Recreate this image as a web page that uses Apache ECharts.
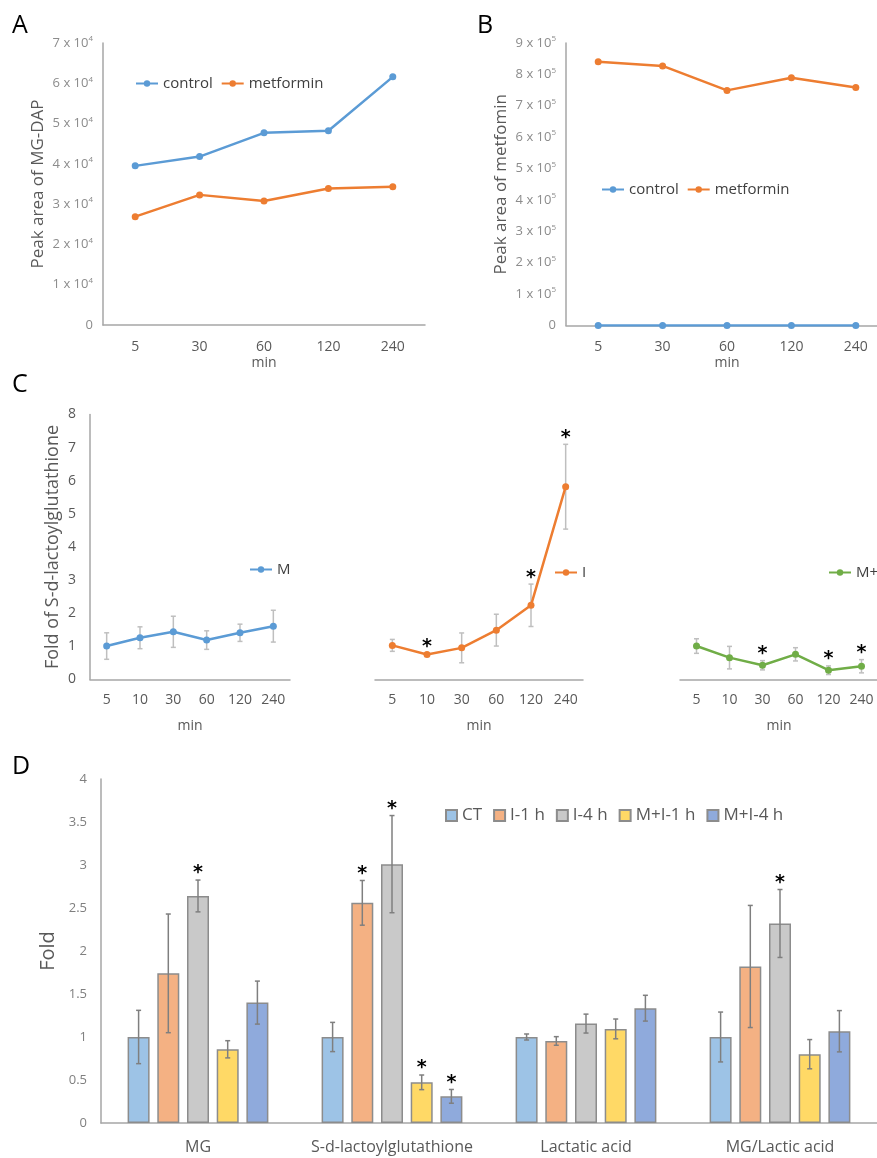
<!DOCTYPE html>
<html><head><meta charset="utf-8">
<script src="https://cdn.jsdelivr.net/npm/echarts@6/dist/echarts.min.js"></script>
<style>html,body{margin:0;padding:0;background:#fff}#c{width:877px;height:1158px}</style>
</head><body><div id="c"></div>
<script>
// ---------- data ----------
const minAB = ['5', '30', '60', '120', '240'];
const controlA = [39500, 41800, 47700, 48200, 61600];
const metforminA = [26900, 32300, 30800, 33900, 34300];
const controlB = [0, 0, 0, 0, 0];
const metforminB = [840000, 827000, 749000, 789000, 758000];

const minC = ['5', '10', '30', '60', '120', '240'];
const cM = [1.01, 1.26, 1.44, 1.19, 1.41, 1.61];
const cMErr = [0.40, 0.33, 0.47, 0.28, 0.26, 0.48];
const cI = [1.03, 0.755, 0.955, 1.49, 2.24, 5.82];
const cIErr = [0.18, 0.03, 0.45, 0.48, 0.64, 1.28];
const cIStar = [0, 1, 0, 0, 1, 1];
const cMI = [1.01, 0.66, 0.43, 0.76, 0.28, 0.40];
const cMIErr = [0.22, 0.34, 0.14, 0.20, 0.13, 0.20];
const cMIStar = [0, 0, 1, 0, 1, 1];

const catsD = ['MG', 'S-d-lactoylglutathione', 'Lactatic acid', 'MG/Lactic acid'];
const groupsD = ['CT', 'I-1 h', 'I-4 h', 'M+I-1 h', 'M+I-4 h'];
const dCT = [1.00, 1.00, 1.00, 1.00];
const dCTErr = [0.31, 0.17, 0.035, 0.29];
const dCTStar = [0, 0, 0, 0];
const dI1 = [1.74, 2.56, 0.954, 1.82];
const dI1Err = [0.69, 0.26, 0.05, 0.71];
const dI1Star = [0, 1, 0, 0];
const dI4 = [2.64, 3.01, 1.156, 2.32];
const dI4Err = [0.185, 0.565, 0.11, 0.395];
const dI4Star = [1, 1, 0, 1];
const dMI1 = [0.857, 0.473, 1.094, 0.80];
const dMI1Err = [0.10, 0.085, 0.115, 0.17];
const dMI1Star = [0, 1, 0, 0];
const dMI4 = [1.40, 0.31, 1.335, 1.067];
const dMI4Err = [0.25, 0.08, 0.15, 0.24];
const dMI4Star = [0, 1, 0, 0];

// ---------- styles ----------
const FONT = 'Open Sans';
const BLUE = '#5B9BD5', ORANGE = '#ED7D31', GREEN = '#70AD47';
const barColors = ['#9DC3E6', '#F4B183', '#C9C9C9', '#FFD966', '#8FAADC'];
const AXIS = '#A6A6A6';
const BAR_W = 22, BAR_GAP = 0.35;

const chart = echarts.init(document.getElementById('c'), null, {renderer: 'canvas'});

function sciFmt(exp) {
  return function (v) {
    if (v === 0) return '{a|0}';
    return '{a|' + Math.round(v / Math.pow(10, exp)) + ' x 10}{s|' + exp + '}';
  };
}
const sciRich = {
  a: {fontSize: 13, color: '#8C8C8C', fontFamily: FONT, lineHeight: 16},
  s: {fontSize: 8, color: '#8C8C8C', fontFamily: FONT, verticalAlign: 'top', lineHeight: 16}
};

function catX(grid, data, nameGap, margin) {
  return {
    type: 'category', gridIndex: grid, data: data, boundaryGap: true,
    axisLine: {show: true, lineStyle: {color: AXIS, width: 1.5}},
    axisTick: {show: false},
    axisLabel: {fontSize: 14, color: '#595959', margin: margin, fontFamily: FONT, interval: 0},
    name: 'min', nameLocation: 'middle', nameGap: nameGap,
    nameTextStyle: {fontSize: 14, color: '#595959', fontFamily: FONT}
  };
}

function errSeries(xi, yi, vals, errs, color, offset) {
  return {
    type: 'custom', xAxisIndex: xi, yAxisIndex: yi, clip: false, silent: true, z: 2,
    data: vals.map((v, i) => [i, v - errs[i], v + errs[i]]),
    renderItem: function (params, api) {
      const lo = api.coord([api.value(0), api.value(1)]);
      const hi = api.coord([api.value(0), api.value(2)]);
      const x = lo[0] + offset;
      const st = {stroke: color, lineWidth: 1.5};
      return {type: 'group', children: [
        {type: 'line', shape: {x1: x, y1: lo[1], x2: x, y2: hi[1]}, style: st},
        {type: 'line', shape: {x1: x - 2.5, y1: lo[1], x2: x + 2.5, y2: lo[1]}, style: st},
        {type: 'line', shape: {x1: x - 2.5, y1: hi[1], x2: x + 2.5, y2: hi[1]}, style: st}
      ]};
    }
  };
}

function starSeries(xi, yi, vals, errs, flags, offset) {
  const d = [];
  vals.forEach((v, i) => { if (flags[i]) d.push([i, v + errs[i]]); });
  return {
    type: 'custom', xAxisIndex: xi, yAxisIndex: yi, clip: false, silent: true, z: 6,
    data: d,
    renderItem: function (params, api) {
      const p = api.coord([api.value(0), api.value(1)]);
      return {type: 'text', x: p[0] + offset, y: p[1] + 3,
        style: {text: '*', fill: '#000', fontSize: 19, fontWeight: 'bold', fontFamily: 'DejaVu Sans',
          align: 'center', verticalAlign: 'bottom'}};
    }
  };
}

function lineSeries(name, xi, yi, data, color) {
  return {
    name: name, type: 'line', xAxisIndex: xi, yAxisIndex: yi, data: data,
    symbol: 'circle', symbolSize: 7, z: 4,
    lineStyle: {color: color, width: 2.5}, itemStyle: {color: color}
  };
}

const pitch = BAR_W * (1 + BAR_GAP);
const dSets = [[dCT, dCTErr, dCTStar], [dI1, dI1Err, dI1Star], [dI4, dI4Err, dI4Star],
  [dMI1, dMI1Err, dMI1Star], [dMI4, dMI4Err, dMI4Star]];

const series = [
  lineSeries('control', 0, 0, controlA, BLUE),
  lineSeries('metformin', 0, 0, metforminA, ORANGE),
  lineSeries('control', 1, 1, controlB, BLUE),
  lineSeries('metformin', 1, 1, metforminB, ORANGE),
  errSeries(2, 2, cM, cMErr, '#BFBFBF', 0),
  lineSeries('M', 2, 2, cM, BLUE),
  errSeries(3, 3, cI, cIErr, '#BFBFBF', 0),
  lineSeries('I', 3, 3, cI, ORANGE),
  starSeries(3, 3, cI, cIErr, cIStar, 0),
  errSeries(4, 4, cMI, cMIErr, '#BFBFBF', 0),
  lineSeries('M+I', 4, 4, cMI, GREEN),
  starSeries(4, 4, cMI, cMIErr, cMIStar, 0)
];
dSets.forEach((s, k) => {
  series.push({
    name: groupsD[k], type: 'bar', xAxisIndex: 5, yAxisIndex: 5, data: s[0], z: 2,
    barWidth: BAR_W, barGap: (BAR_GAP * 100) + '%',
    itemStyle: {color: barColors[k], borderColor: '#8C8C8C', borderWidth: 1.5}
  });
});
dSets.forEach((s, k) => {
  const off = (k - 2) * pitch;
  const e = errSeries(5, 5, s[0], s[1], '#7F7F7F', off);
  e.z = 5;
  series.push(e);
  series.push(starSeries(5, 5, s[0], s[1], s[2], off));
});

const legendText = {fontSize: 15, color: '#404040', fontFamily: FONT};
const titleStyle = {fontSize: 25, fontWeight: 'normal', color: '#000', fontFamily: FONT};

const option = {
  animation: false,
  backgroundColor: '#fff',
  textStyle: {fontFamily: FONT},
  title: [
    {text: 'A', left: 12, top: 13, padding: 0, textStyle: titleStyle},
    {text: 'B', left: 477, top: 13, padding: 0, textStyle: titleStyle},
    {text: 'C', left: 12, top: 372, padding: 0, textStyle: titleStyle},
    {text: 'D', left: 12, top: 754, padding: 0, textStyle: titleStyle}
  ],
  legend: [
    {data: ['control', 'metformin'], left: 135, top: 76, padding: 0, itemWidth: 22, itemHeight: 8, itemGap: 8, textStyle: legendText},
    {data: ['control', 'metformin'], left: 601, top: 182, padding: 0, itemWidth: 22, itemHeight: 8, itemGap: 8, textStyle: legendText},
    {data: ['M'], left: 249, top: 562, padding: 0, itemWidth: 22, itemHeight: 8, textStyle: legendText},
    {data: ['I'], left: 554, top: 565, padding: 0, itemWidth: 22, itemHeight: 8, textStyle: legendText},
    {data: ['M+I'], left: 828, top: 565, padding: 0, itemWidth: 22, itemHeight: 8, itemGap: 0, textStyle: legendText},
    {data: groupsD, left: 445, top: 807, padding: 0, itemWidth: 11, itemHeight: 11, itemGap: 11, icon: 'rect',
      textStyle: {fontSize: 17, color: '#595959', fontFamily: FONT}}
  ],
  grid: [
    {left: 103, top: 43, width: 322, height: 282, outerBoundsMode: 'none'},
    {left: 566, top: 43, width: 322, height: 282.5, outerBoundsMode: 'none'},
    {left: 90, top: 414.5, width: 200, height: 265, outerBoundsMode: 'none'},
    {left: 375, top: 414.5, width: 208, height: 265, outerBoundsMode: 'none'},
    {left: 680, top: 414.5, width: 198, height: 265, outerBoundsMode: 'none'},
    {left: 101, top: 779, width: 776, height: 344, outerBoundsMode: 'none'}
  ],
  xAxis: [
    catX(0, minAB, 31, 15),
    catX(1, minAB, 31, 15),
    catX(2, minC, 40, 14),
    catX(3, minC, 40, 14),
    catX(4, minC, 40, 14),
    {type: 'category', gridIndex: 5, data: catsD,
      axisLine: {show: true, lineStyle: {color: AXIS, width: 1.5}},
      axisTick: {show: false},
      axisLabel: {fontSize: 16, color: '#595959', margin: 16, fontFamily: FONT, interval: 0}}
  ],
  yAxis: [
    {type: 'value', gridIndex: 0, min: 0, max: 70000, interval: 10000, splitLine: {show: false},
      axisLine: {show: true, lineStyle: {color: AXIS, width: 1.5}}, axisTick: {show: false},
      axisLabel: {formatter: sciFmt(4), rich: sciRich, margin: 10},
      name: 'Peak area of MG-DAP', nameLocation: 'middle', nameRotate: 90, nameGap: 56,
      nameTextStyle: {fontSize: 17, color: '#595959', fontFamily: FONT}},
    {type: 'value', gridIndex: 1, min: 0, max: 900000, interval: 100000, splitLine: {show: false},
      axisLine: {show: true, lineStyle: {color: AXIS, width: 1.5}}, axisTick: {show: false},
      axisLabel: {formatter: sciFmt(5), rich: sciRich, margin: 10},
      name: 'Peak area of metfomin', nameLocation: 'middle', nameRotate: 90, nameGap: 56,
      nameTextStyle: {fontSize: 17, color: '#595959', fontFamily: FONT}},
    {type: 'value', gridIndex: 2, min: 0, max: 8, interval: 1, splitLine: {show: false},
      axisLine: {show: true, lineStyle: {color: AXIS, width: 1.5}}, axisTick: {show: false},
      axisLabel: {fontSize: 14, color: '#595959', margin: 14, fontFamily: FONT},
      name: 'Fold of S-d-lactoylglutathione', nameLocation: 'middle', nameRotate: 90, nameGap: 28,
      nameTextStyle: {fontSize: 18, color: '#595959', fontFamily: FONT}},
    {type: 'value', gridIndex: 3, min: 0, max: 8, interval: 1, show: false},
    {type: 'value', gridIndex: 4, min: 0, max: 8, interval: 1, show: false},
    {type: 'value', gridIndex: 5, min: 0, max: 4, interval: 0.5, splitLine: {show: false},
      axisLine: {show: true, lineStyle: {color: AXIS, width: 1.5}}, axisTick: {show: false},
      axisLabel: {fontSize: 13, color: '#7F7F7F', margin: 14, fontFamily: FONT},
      name: 'Fold', nameLocation: 'middle', nameRotate: 90, nameGap: 42,
      nameTextStyle: {fontSize: 20, color: '#595959', fontFamily: FONT}}
  ],
  series: series
};
chart.setOption(option);
</script></body></html>
